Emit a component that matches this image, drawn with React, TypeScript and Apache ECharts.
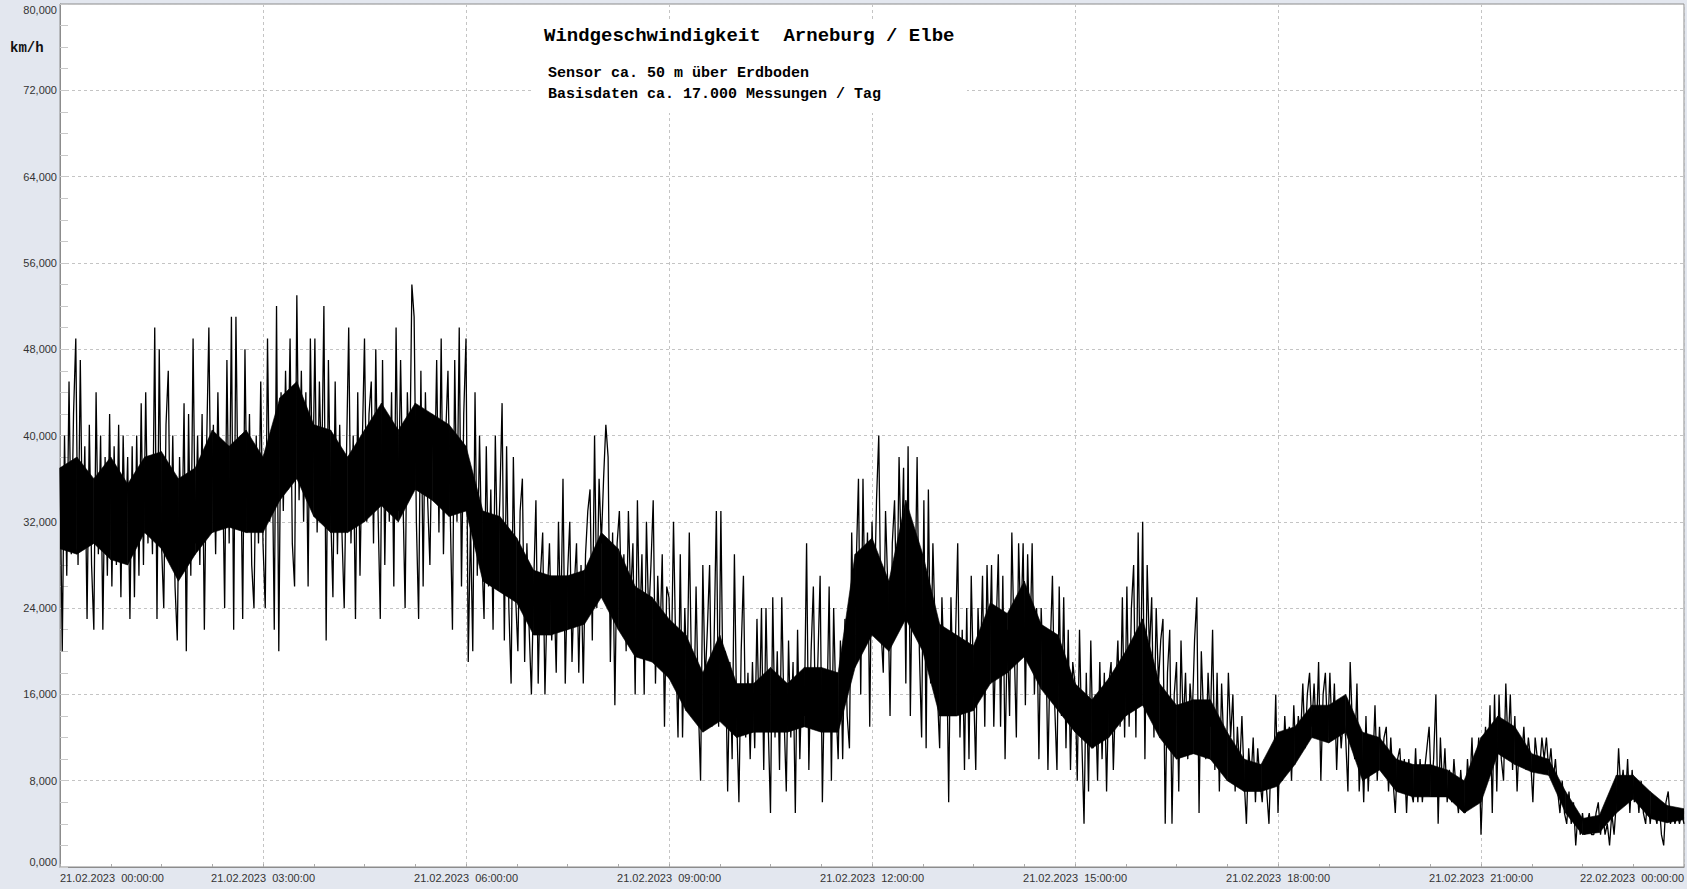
import { useEffect, useRef } from 'react';
import * as echarts from 'echarts';

// Wind speed (km/h), samples every ~2 minutes, 21.02.2023 00:00 – 22.02.2023 00:00
const hour00 = [37,20,40,27,45,29,42,49,28,47,30,39,23,41,28,22,44,29,40,22,38,27,42,26,39,28,41,25,40,30];
const hour01 = [38,23,39,25,40,27,43,28,44,30,38,29,50,23,48,30,24,41,46,28,40,26,21,38,29,43,20,42,27,49];
const hour02 = [30,40,28,42,22,39,50,31,41,29,44,32,38,24,47,30,51,22,51,33,40,23,48,31,42,28,24,40,30,45];
const hour03 = [30,24,49,32,40,22,52,20,44,33,46,35,49,30,26,53,34,46,32,44,26,49,34,49,31,45,36,52,21,47];
const hour04 = [33,25,45,29,41,31,24,38,50,30,40,23,44,27,39,49,32,42,45,30,48,33,23,47,28,42,32,44,26,50];
const hour05 = [33,47,35,24,44,36,54,51,32,23,46,26,44,34,28,42,35,47,31,49,29,40,46,33,22,47,32,50,26,42];
const hour06 = [49,19,32,20,44,27,40,29,23,39,26,35,22,40,28,34,43,21,39,24,17,38,25,20,33,36,19,30,22,16];
const hour07 = [26,34,17,27,31,16,25,30,21,26,18,32,22,36,17,27,32,19,26,30,18,28,17,29,33,35,21,40,24,36];
const hour08 = [30,36,41,38,19,31,15,30,33,24,29,20,33,25,30,16,34,22,29,16,32,23,28,34,17,27,21,29,13,26];
const hour09 = [25,18,32,20,12,29,12,24,17,31,18,14,26,15,8,28,17,22,28,13,21,33,13,33,15,20,7,19,10,29];
const hour10 = [14,6,20,27,12,18,10,19,11,23,13,24,9,24,13,5,25,12,20,9,25,14,7,21,12,19,5,22,10,18];
const hour11 = [14,30,9,20,26,13,19,27,6,18,14,26,8,24,15,10,21,10,23,14,11,31,19,28,36,16,36,22,31,13];
const hour12 = [32,24,34,40,22,18,33,26,14,30,34,23,38,28,37,17,39,14,30,24,38,20,12,34,11,35,17,30,22,16];
const hour13 = [11,25,18,22,6,25,16,21,30,12,22,9,24,10,27,17,9,24,18,27,13,28,19,28,13,22,29,13,27,10];
const hour14 = [22,14,31,21,12,30,22,30,15,29,20,30,16,24,10,24,17,22,9,20,27,15,9,26,14,25,11,22,9,19];
const hour15 = [17,8,22,12,4,18,7,21,11,16,8,19,10,18,7,17,19,9,16,21,13,25,12,26,13,24,28,12,31,16];
const hour16 = [32,10,28,20,25,12,24,17,21,23,4,18,22,4,16,19,7,21,13,18,10,17,14,21,25,5,20,14,10,18];
const hour17 = [13,22,9,18,7,17,11,9,18,12,16,7,13,9,14,8,4,11,8,12,6,11,8,6,10,7,4,11,8,16];
const hour18 = [5,12,8,14,10,13,8,15,10,14,12,17,11,16,18,13,17,12,19,8,16,18,12,18,12,17,9,15,11,14];
const hour19 = [12,7,19,13,10,17,7,12,6,14,7,12,9,15,8,13,9,12,13,7,12,8,5,10,11,7,10,5,10,7];
const hour20 = [6,11,6,10,6,9,11,13,7,10,16,4,12,7,11,6,9,6,10,7,5,9,6,5,10,7,12,6,9,12];
const hour21 = [3,9,13,9,15,5,16,7,16,10,8,17,11,16,9,14,7,12,10,13,9,12,10,6,12,10,9,12,10,12];
const hour22 = [9,11,8,10,7,5,8,5,4,7,4,6,2,5,3,5,3,4,5,3,3,5,6,3,5,3,4,2,5,3];
const hour23 = [6,11,7,9,6,10,5,9,6,8,5,8,5,4,7,4,6,5,4,6,3,2,6,7,4,5,4,5,4,5];
const endOfDay = [4];

// Dense core of the measurements (where the trace is solid black), every 15 minutes
const coreHigh = [
  37,38,36,38,35.5,38,38.5,36,37,40.5,39,40.5,
  38,43.5,45,41,40.5,38,40.5,43,40.5,43,42,41,
  39,33,32.5,30.5,27.5,27,27,27.5,31,29.5,26,25,
  23,21.5,18,21.5,17,17,18.5,17,18.5,18.5,18,29,
  30.5,26.5,34,29,22.5,21.5,20.5,24.5,23.5,26.5,22.5,21.5,
  17,15.5,17.5,20,23,17,15,15.5,15.5,12.5,10,9.5,
  12.5,13,15,15,16,12.5,12,10,9.5,9.5,9,8,
  12,14,13,10.5,10,7,4.5,4.8,8.5,8.5,7,5.7,
  5.4,
];
const coreLow = [
  29.5,29,30,28.5,28,31,29.5,26.5,29,31,31.5,31,
  31,34,36,32.5,31,31,32,33.5,32,35,34,32.5,
  33,26.5,25.5,24.5,21.5,21.5,22,22.5,25,22,19.5,19,
  17.5,14.5,12.5,13.5,12,12.5,12.5,12.5,13,12.5,12.5,18.5,
  21.5,20,23,20,14,14,14.5,17,18,19.5,16.5,14.5,
  12.5,11,12,14,15,12,10,10.5,10,8,7,7,
  7.5,9.5,12,11.5,12.5,8,9,7,6.5,6.5,6.5,5,
  6,10.5,9.5,8.8,8.5,5,3,3.2,5,6.3,4.5,4.1,
  4.4,
];

const xTickLabels = [
  '21.02.2023  00:00:00',
  '21.02.2023  03:00:00',
  '21.02.2023  06:00:00',
  '21.02.2023  09:00:00',
  '21.02.2023  12:00:00',
  '21.02.2023  15:00:00',
  '21.02.2023  18:00:00',
  '21.02.2023  21:00:00',
  '22.02.2023  00:00:00',
];

const titleText = 'Windgeschwindigkeit  Arneburg / Elbe';
const subtitleLines = ['Sensor ca. 50 m über Erdboden', 'Basisdaten ca. 17.000 Messungen / Tag'];
const unitText = 'km/h';

export default function App() {
  const ref = useRef<HTMLDivElement>(null);
  useEffect(() => {
    if (!ref.current) return;
    const chart = echarts.init(ref.current, undefined, { renderer: 'svg' });
    const values = [
      ...hour00, ...hour01, ...hour02, ...hour03, ...hour04, ...hour05,
      ...hour06, ...hour07, ...hour08, ...hour09, ...hour10, ...hour11,
      ...hour12, ...hour13, ...hour14, ...hour15, ...hour16, ...hour17,
      ...hour18, ...hour19, ...hour20, ...hour21, ...hour22, ...hour23,
      ...endOfDay,
    ];
    const step = 1440 / (values.length - 1);
    const data = values.map((v, i) => [i * step, v]);
    const coreStep = 1440 / (coreLow.length - 1);
    const coreSegments = coreLow.slice(0, -1).map((lo, i) => [
      i * coreStep, lo, coreHigh[i], (i + 1) * coreStep, coreLow[i + 1], coreHigh[i + 1],
    ]);
    const mono = '"Liberation Mono", "Courier New", monospace';
    chart.setOption({
      animation: false,
      backgroundColor: '#E3E7EF',
      grid: {
        left: 60, right: 1, top: 4, bottom: 22,
        show: true, backgroundColor: '#ffffff', borderColor: '#8c8c8c', borderWidth: 1,
      },
      xAxis: {
        type: 'value', min: 0, max: 1440, interval: 180,
        axisLine: { show: true, onZero: false, lineStyle: { color: '#8c8c8c' } },
        axisTick: { show: true, inside: true, length: 3, lineStyle: { color: '#aaaaaa' } },
        minorTick: { show: true, splitNumber: 4, length: 3, lineStyle: { color: '#aaaaaa' } },
        splitLine: { show: true, lineStyle: { color: '#c4c4c4', type: [3, 3] } },
        axisLabel: {
          formatter: (v: number) => xTickLabels[Math.round(v / 180)] ?? '',
          fontSize: 11, color: '#333', fontFamily: '"Liberation Sans", Arial, sans-serif',
          margin: 5, alignMinLabel: 'left', alignMaxLabel: 'right',
        },
      },
      yAxis: {
        type: 'value', min: 0, max: 80, interval: 8,
        axisLine: { show: true, lineStyle: { color: '#8c8c8c' } },
        axisTick: { show: true, inside: true, length: 8, lineStyle: { color: '#c8c8c8' } },
        minorTick: { show: true, splitNumber: 4, length: 8, lineStyle: { color: '#c8c8c8' } },
        splitLine: { show: true, lineStyle: { color: '#c4c4c4', type: [3, 3] } },
        axisLabel: {
          formatter: (v: number) => v.toFixed(3).replace('.', ','),
          fontSize: 11, color: '#333', fontFamily: '"Liberation Sans", Arial, sans-serif',
          margin: 3, verticalAlignMaxLabel: 'top', verticalAlignMinLabel: 'bottom',
        },
      },
      graphic: [
        { type: 'rect', x: 532, y: 20, shape: { width: 435, height: 93 }, style: { fill: '#ffffff' }, z: 50 },
        { type: 'text', x: 544, y: 36, z: 51, style: { text: titleText, font: `bold 19px ${mono}`, fill: '#000', verticalAlign: 'middle' } },
        { type: 'text', x: 548, y: 73, z: 51, style: { text: subtitleLines[0], font: `bold 15px ${mono}`, fill: '#000', verticalAlign: 'middle' } },
        { type: 'text', x: 548, y: 94, z: 51, style: { text: subtitleLines[1], font: `bold 15px ${mono}`, fill: '#000', verticalAlign: 'middle' } },
        { type: 'text', x: 10, y: 48, z: 51, style: { text: unitText, font: `bold 14px ${mono}`, fill: '#111', verticalAlign: 'middle' } },
      ],
      series: [
        {
          type: 'custom', data: coreSegments, silent: true, clip: true,
          encode: { x: [0, 3], y: [1, 2, 4, 5] },
          renderItem: (_params: any, api: any) => {
            const a = api.coord([api.value(0), api.value(1)]);
            const b = api.coord([api.value(0), api.value(2)]);
            const c = api.coord([api.value(3), api.value(5)]);
            const d = api.coord([api.value(3), api.value(4)]);
            return {
              type: 'polygon',
              shape: { points: [a, b, c, d] },
              style: { fill: '#000', stroke: '#000', lineWidth: 0.6 },
            };
          },
        },
        {
          type: 'line', data, showSymbol: false, symbol: 'none',
          lineStyle: { color: '#000', width: 1.3 }, silent: true,
        },
      ],
    });
    return () => chart.dispose();
  }, []);
  return <div ref={ref} style={{ position: 'fixed', left: 0, top: 0, width: 1687, height: 889 }} />;
}
